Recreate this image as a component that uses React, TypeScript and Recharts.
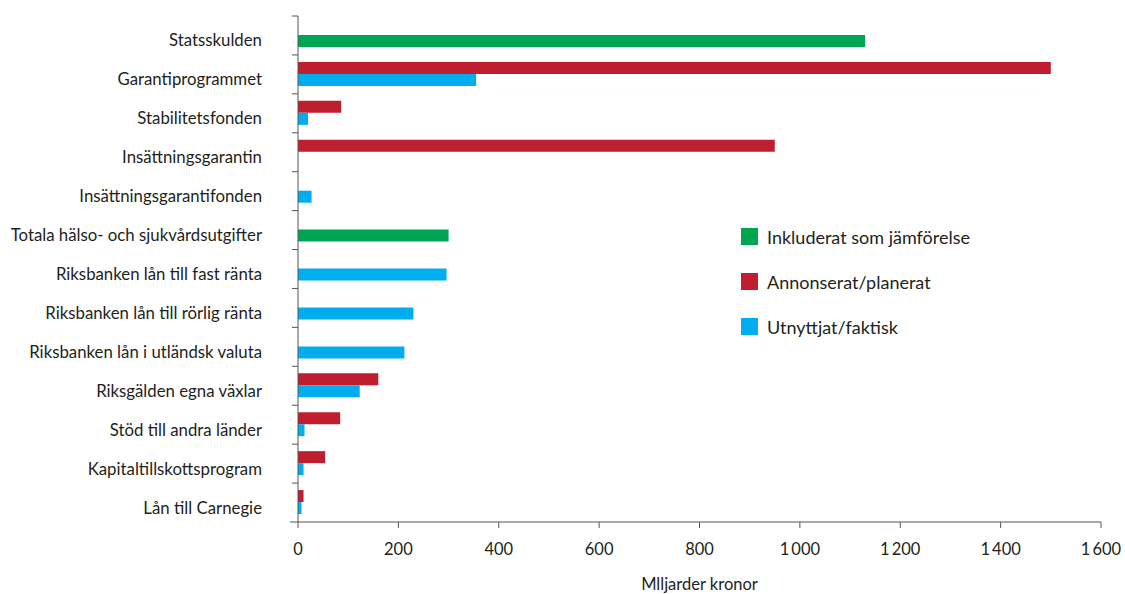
import React from 'react';
import { BarChart, Bar, XAxis, YAxis, Legend } from 'recharts';

const categories = [
  'Statsskulden',
  'Garantiprogrammet',
  'Stabilitetsfonden',
  'Insättningsgarantin',
  'Insättningsgarantifonden',
  'Totala hälso- och sjukvårdsutgifter',
  'Riksbanken lån till fast ränta',
  'Riksbanken lån till rörlig ränta',
  'Riksbanken lån i utländsk valuta',
  'Riksgälden egna växlar',
  'Stöd till andra länder',
  'Kapitaltillskottsprogram',
  'Lån till Carnegie',
];

// Inkluderat som jämförelse
const jamforelse = [1130, 0, 0, 0, 0, 300, 0, 0, 0, 0, 0, 0, 0];
// Annonserat/planerat
const annonserat = [0, 1500, 86, 950, 0, 0, 0, 0, 0, 160, 84, 54, 11];
// Utnyttjat/faktisk
const utnyttjat = [0, 355, 20, 0, 27, 0, 296, 230, 212, 123, 13, 11, 7];

const xTicks = [0, 200, 400, 600, 800, 1000, 1200, 1400, 1600];

const seriesNames = ['Inkluderat som jämförelse', 'Annonserat/planerat', 'Utnyttjat/faktisk'];
const seriesColors = ['#00A551', '#BE1E2D', '#00AEEF'];

const data = categories.map((name, i) => ({
  name,
  jamforelse: jamforelse[i],
  annonserat: annonserat[i],
  utnyttjat: utnyttjat[i],
}));

const W = 1125;
const H = 594;
const TOP = 16;
const PLOT_BOTTOM = 522;
const band = (PLOT_BOTTOM - TOP) / categories.length;
const textColor = '#231F20';
const font = 'Lato, sans-serif';

const fmt = (v: number) => {
  const s = String(v);
  return s.length > 3 ? s.slice(0, s.length - 3) + '\u2009' + s.slice(-3) : s;
};

const CategoryTick = (props: any) => {
  const { x, y, payload, index } = props;
  const last = index === categories.length - 1;
  return (
    <g>
      <line x1={x - 6} x2={x} y1={y - band / 2} y2={y - band / 2} stroke="#555" strokeWidth={1} />
      {last && <line x1={x - 8} x2={x} y1={y + band / 2} y2={y + band / 2} stroke="#555" strokeWidth={1} />}
      <text x={x - 36} y={y + 11} textAnchor="end" fontSize={16.8} fill={textColor} fontFamily={font}>
        {payload.value}
      </text>
    </g>
  );
};

const renderLegend = () => (
  <div style={{ fontFamily: font, fontSize: 18, color: textColor }}>
    {seriesNames.map((n, i) => (
      <div key={n} style={{ display: 'flex', alignItems: 'center', height: 17, marginBottom: 28 }}>
        <div style={{ width: 17, height: 17, background: seriesColors[i], marginRight: 9 }} />
        <span>{n}</span>
      </div>
    ))}
  </div>
);

export default function App() {
  return (
    <div style={{ position: 'absolute', left: 0, top: 0, width: W, height: H, background: '#fff' }}>
      <BarChart
        width={W}
        height={H}
        data={data}
        layout="vertical"
        margin={{ top: TOP, right: 24, bottom: 0, left: 0 }}
        barSize={12}
        barGap={0}
      >
        <XAxis
          type="number"
          domain={[0, 1600]}
          ticks={xTicks}
          tickFormatter={fmt}
          height={H - PLOT_BOTTOM}
          tickSize={6}
          tickMargin={15}
          axisLine={{ stroke: '#555' }}
          tickLine={{ stroke: '#555' }}
          tick={{ fontSize: 16.5, fill: textColor, fontFamily: font }}
          label={{
            value: 'Mlljarder kronor',
            position: 'insideBottom',
            offset: 4,
            fontSize: 16.5,
            fill: textColor,
            fontFamily: font,
          }}
        />
        <YAxis
          type="category"
          dataKey="name"
          width={298}
          tickSize={0}
          tickMargin={0}
          tickLine={false}
          axisLine={{ stroke: '#555' }}
          interval={0}
          tick={<CategoryTick />}
        />
        <Legend
          layout="vertical"
          align="center"
          verticalAlign="middle"
          content={renderLegend}
          wrapperStyle={{ position: 'absolute', left: 741, top: 228, width: 320 }}
        />
        <Bar dataKey="annonserat" name={seriesNames[1]} fill={seriesColors[1]} stackId="r" isAnimationActive={false} />
        <Bar dataKey="jamforelse" name={seriesNames[0]} fill={seriesColors[0]} stackId="gb" isAnimationActive={false} />
        <Bar dataKey="utnyttjat" name={seriesNames[2]} fill={seriesColors[2]} stackId="gb" isAnimationActive={false} />
      </BarChart>
    </div>
  );
}
